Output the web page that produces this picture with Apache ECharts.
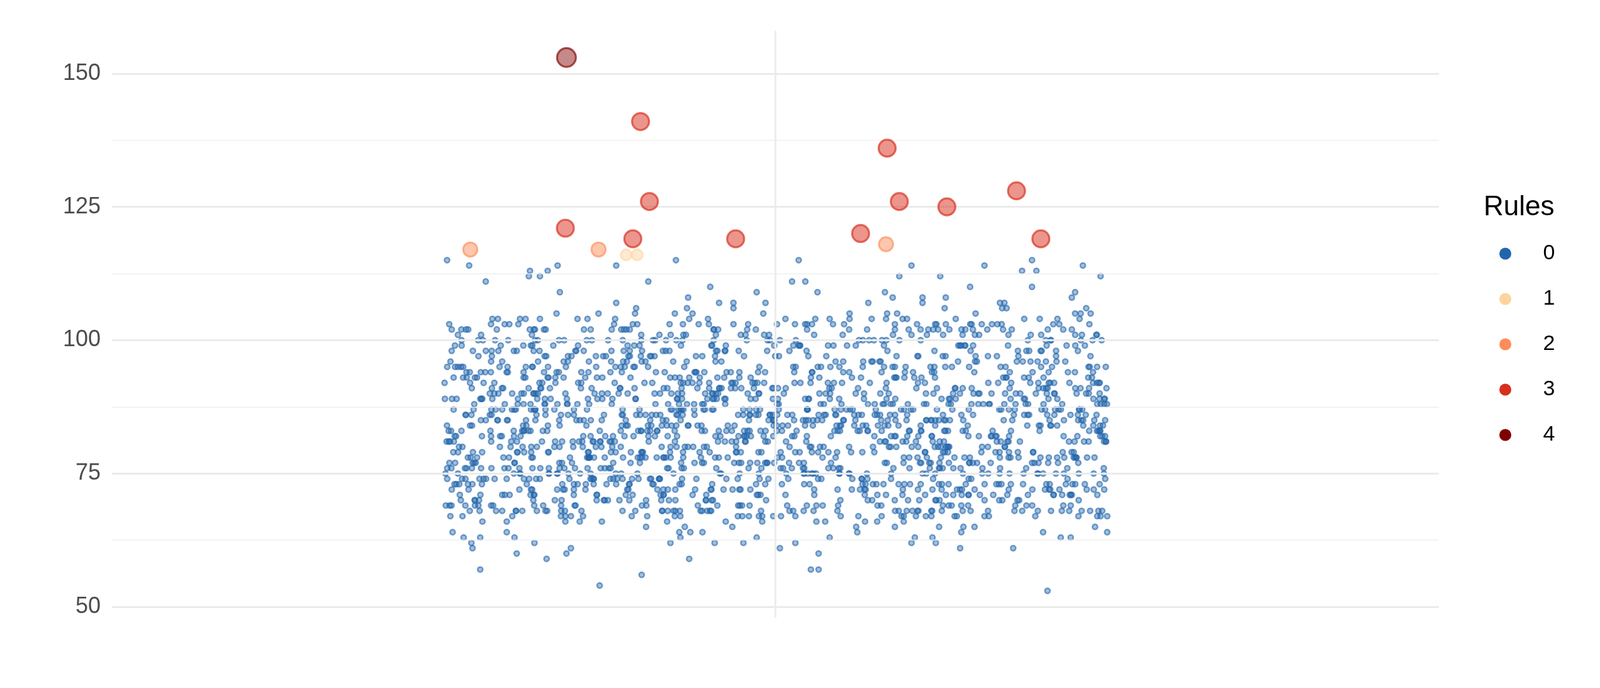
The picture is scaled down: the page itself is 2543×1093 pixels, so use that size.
<!DOCTYPE html>
<html>
<head>
<meta charset="utf-8">
<script src="https://cdn.jsdelivr.net/npm/echarts@6/dist/echarts.min.js"></script>
<style>
html,body{margin:0;padding:0;background:#ffffff;}
#chart{width:2543px;height:1093px;}
</style>
</head>
<body>
<div id="chart"></div>
<script>
// ---------------- data ----------------
const categories = ['all'];
const ruleNames = ['0', '1', '2', '3', '4'];
const ruleColors = ['#2166AC', '#FDD49E', '#FC8D59', '#D7301F', '#7F0000'];
const yTickValues = [50, 75, 100, 125, 150];
const yMinorValues = [62.5, 87.5, 112.5, 137.5];

// Rule 0, dense core: how many points sit at each integer value (horizontal spread = axis jitter)
const coreValues = [68, 69, 70, 71, 72, 73, 74, 75, 76, 77, 78, 79, 80, 81, 82, 83, 84, 85,
  86, 87, 88, 89, 90, 91, 92, 93, 94, 95, 96, 97, 98, 99, 100, 101, 102, 103];
const coreCounts = [54, 38, 37, 44, 47, 52, 47, 50, 50, 50, 56, 52, 47, 53, 51, 60, 52, 57,
  62, 62, 52, 52, 56, 48, 48, 43, 43, 45, 33, 34, 37, 36, 40, 29, 41, 35];

// Rule 0, upper tail: value and horizontal offset from the category centre (category units)
const upperValues = [
  115, 115, 115, 115,
  114, 114, 114, 114, 114, 114,
  113, 113, 113, 113,
  112, 112, 112, 112, 112,
  111, 111, 111, 111,
  110, 110, 110,
  109, 109, 109, 109, 109,
  108, 108, 108, 108, 108,
  107, 107, 107, 107, 107, 107, 107, 107,
  106, 106, 106, 106, 106, 106, 106,
  105, 105, 105, 105, 105, 105, 105, 105, 105, 105, 105, 105, 105,
  104, 104, 104, 104, 104, 104, 104, 104, 104, 104, 104, 104, 104, 104, 104, 104, 104, 104, 104, 104, 104, 104, 104
];
const upperOffsets = [
  -0.297, -0.090, 0.021, 0.232,
  -0.277, -0.197, -0.144, 0.123, 0.189, 0.278,
  -0.222, -0.206, 0.223, 0.236,
  -0.223, -0.213, 0.112, 0.149, 0.294,
  -0.262, -0.115, 0.015, 0.027,
  -0.059, 0.176, 0.232,
  -0.195, -0.017, 0.038, 0.099, 0.271,
  -0.079, 0.106, 0.133, 0.154, 0.268,
  -0.144, -0.051, -0.038, -0.009, 0.084, 0.133, 0.203, 0.207,
  -0.126, -0.080, -0.038, 0.153, 0.205, 0.209, 0.281,
  -0.198, -0.160, -0.127, -0.091, -0.075, -0.011, 0.067, 0.101, 0.110, 0.181, 0.271, 0.276, 0.285,
  -0.256, -0.251, -0.231, -0.226, -0.213, -0.179, -0.170, -0.145, -0.078, -0.061, 0.009, 0.036, 0.049,
  0.067, 0.087, 0.100, 0.115, 0.119, 0.163, 0.225, 0.239, 0.255, 0.275
];

// Rule 0, lower tail
const lowerValues = [
  67, 67, 67, 67, 67, 67, 67, 67, 67, 67, 67, 67, 67, 67, 67, 67, 67, 67,
  67, 67, 67, 67, 67, 67, 67, 67, 67, 67, 67, 67, 67, 67, 67, 67, 67, 67,
  66, 66, 66, 66, 66, 66, 66, 66, 66, 66, 66, 66, 66,
  65, 65, 65, 65, 65, 65, 65, 65, 65,
  64, 64, 64, 64, 64, 64, 64, 64, 64,
  63, 63, 63, 63, 63, 63, 63, 63, 63, 63,
  62, 62, 62, 62, 62, 62, 62, 62,
  61, 61, 61, 61, 61,
  60, 60, 60,
  59, 59,
  57, 57, 57,
  56,
  54,
  53
];
const lowerOffsets = [
  -0.294, -0.283, -0.238, -0.194, -0.190, -0.185, -0.174, -0.130, -0.116, -0.091, -0.086, -0.034,
  -0.030, -0.024, -0.015, -0.012, -0.002, 0.005,
  0.018, 0.059, 0.075, 0.096, 0.114, 0.116, 0.127, 0.136, 0.141, 0.162, 0.164, 0.189, 0.193, 0.235,
  0.274, 0.291, 0.294, 0.300,
  -0.265, -0.243, -0.190, -0.177, -0.157, -0.098, -0.045, -0.012, 0.037, 0.045, 0.081, 0.092, 0.116,
  -0.117, -0.082, -0.039, 0.073, 0.108, 0.148, 0.170, 0.180, 0.289,
  -0.292, -0.243, -0.087, -0.077, -0.066, 0.074, 0.168, 0.242, 0.300,
  -0.282, -0.267, -0.236, -0.086, -0.017, 0.049, 0.126, 0.142, 0.258, 0.267,
  -0.275, -0.218, -0.095, -0.055, -0.029, 0.018, 0.123, 0.145,
  -0.274, -0.185, 0.004, 0.167, 0.215,
  -0.234, -0.189, 0.039,
  -0.207, -0.078,
  -0.267, 0.032, 0.039,
  -0.121,
  -0.159,
  0.246
];

// Flagged points (rules 1-4)
const flaggedRules = [4, 3, 3, 3, 3, 3, 3, 3, 3, 3, 3, 3, 2, 2, 2, 1, 1];
const flaggedValues = [153, 141, 126, 121, 119, 119, 120, 136, 126, 125, 128, 119, 117, 117, 118, 116, 116];
const flaggedOffsets = [-0.189, -0.122, -0.114, -0.190, -0.129, -0.036, 0.077, 0.101, 0.112, 0.155, 0.218, 0.240,
  -0.276, -0.160, 0.100, -0.135, -0.125];

// ---------------- build ----------------
const FONT = "'Liberation Sans', Arial, 'DejaVu Sans', sans-serif";
function rgba(hex, a) {
  const n = parseInt(hex.slice(1), 16);
  return 'rgba(' + (n >> 16 & 255) + ',' + (n >> 8 & 255) + ',' + (n & 255) + ',' + a + ')';
}

const coreData = [];
coreValues.forEach((v, i) => {
  for (let k = 0; k < coreCounts[i]; k++) coreData.push([categories[0], v]);
});
const tailData = upperValues.map((v, i) => [upperOffsets[i], v])
  .concat(lowerValues.map((v, i) => [lowerOffsets[i], v]));

const sizeByRule = [8.2, 17.5, 22.5, 27, 30];
const borderByRule = [2.5, 2.8, 3, 3.2, 3.2];
const fillAlpha = [0.52, 0.6, 0.62, 0.64, 0.58];
const strokeAlpha = [0.75, 0.75, 0.8, 0.85, 0.8];

function ruleStyle(r) {
  return {
    color: rgba(ruleColors[r], fillAlpha[r]),
    borderColor: rgba(ruleColors[r], strokeAlpha[r]),
    borderWidth: borderByRule[r]
  };
}

const series = [];
// gridlines
const gridLineStyleMajor = { color: '#EBEBEB', width: 2.8, type: 'solid' };
const gridLineStyleMinor = { color: '#EFEFEF', width: 1.5, type: 'solid' };
series.push({
  name: 'grid', type: 'scatter', xAxisIndex: 1, yAxisIndex: 0, data: [], silent: true, z: 1,
  markLine: {
    silent: true, symbol: ['none', 'none'], label: { show: false }, animation: false,
    data: yTickValues.map(v => ({ yAxis: v, lineStyle: gridLineStyleMajor }))
      .concat(yMinorValues.map(v => ({ yAxis: v, lineStyle: gridLineStyleMinor })))
      .concat([{ xAxis: 0, lineStyle: gridLineStyleMajor }])
  }
});
series.push({
  name: ruleNames[0], type: 'scatter', xAxisIndex: 0, yAxisIndex: 0, data: coreData,
  symbol: 'circle', symbolSize: sizeByRule[0], itemStyle: ruleStyle(0), z: 2, animation: false
});
series.push({
  name: ruleNames[0], type: 'scatter', xAxisIndex: 1, yAxisIndex: 0, data: tailData,
  symbol: 'circle', symbolSize: sizeByRule[0], itemStyle: ruleStyle(0), z: 2, animation: false
});
for (let r = 1; r <= 4; r++) {
  const d = [];
  flaggedRules.forEach((fr, i) => { if (fr === r) d.push([flaggedOffsets[i], flaggedValues[i]]); });
  series.push({
    name: ruleNames[r], type: 'scatter', xAxisIndex: 1, yAxisIndex: 0, data: d,
    symbol: 'circle', symbolSize: sizeByRule[r], itemStyle: ruleStyle(r), z: 3 + r, animation: false
  });
}

const option = {
  backgroundColor: '#ffffff',
  animation: false,
  grid: { left: 178, right: 256, top: 49, bottom: 112, containLabel: false },
  xAxis: [
    {
      type: 'category', data: categories, boundaryGap: true,
      jitter: 1054, jitterOverlap: true,
      axisLine: { show: false }, axisTick: { show: false }, axisLabel: { show: false }, splitLine: { show: false }
    },
    {
      type: 'value', min: -0.6, max: 0.6, show: false,
      axisLine: { show: false }, axisTick: { show: false }, axisLabel: { show: false }, splitLine: { show: false }
    }
  ],
  yAxis: [{
    type: 'value', min: 48, max: 158,
    axisLine: { show: false }, axisTick: { show: false }, splitLine: { show: false },
    axisLabel: {
      customValues: yTickValues, color: '#4D4D4D', fontSize: 36, fontFamily: FONT, margin: 18
    }
  }],
  legend: {
    orient: 'vertical', left: 2383, top: 386, padding: 0,
    itemWidth: 110, itemHeight: 19, itemGap: 38, icon: 'circle',
    textStyle: { fontSize: 34, lineHeight: 34, color: '#000000', fontFamily: FONT },
    data: ruleNames.map((n, i) => ({ name: n, itemStyle: { color: ruleColors[i], borderWidth: 0, opacity: 1 } })),
    selectedMode: false
  },
  graphic: [{
    type: 'text', left: 2358, top: 308,
    style: { text: 'Rules', fill: '#000000', font: '44px ' + FONT }
  }],
  series: series
};

const chart = echarts.init(document.getElementById('chart'), null, { renderer: 'canvas' });
chart.setOption(option);
</script>
</body>
</html>
